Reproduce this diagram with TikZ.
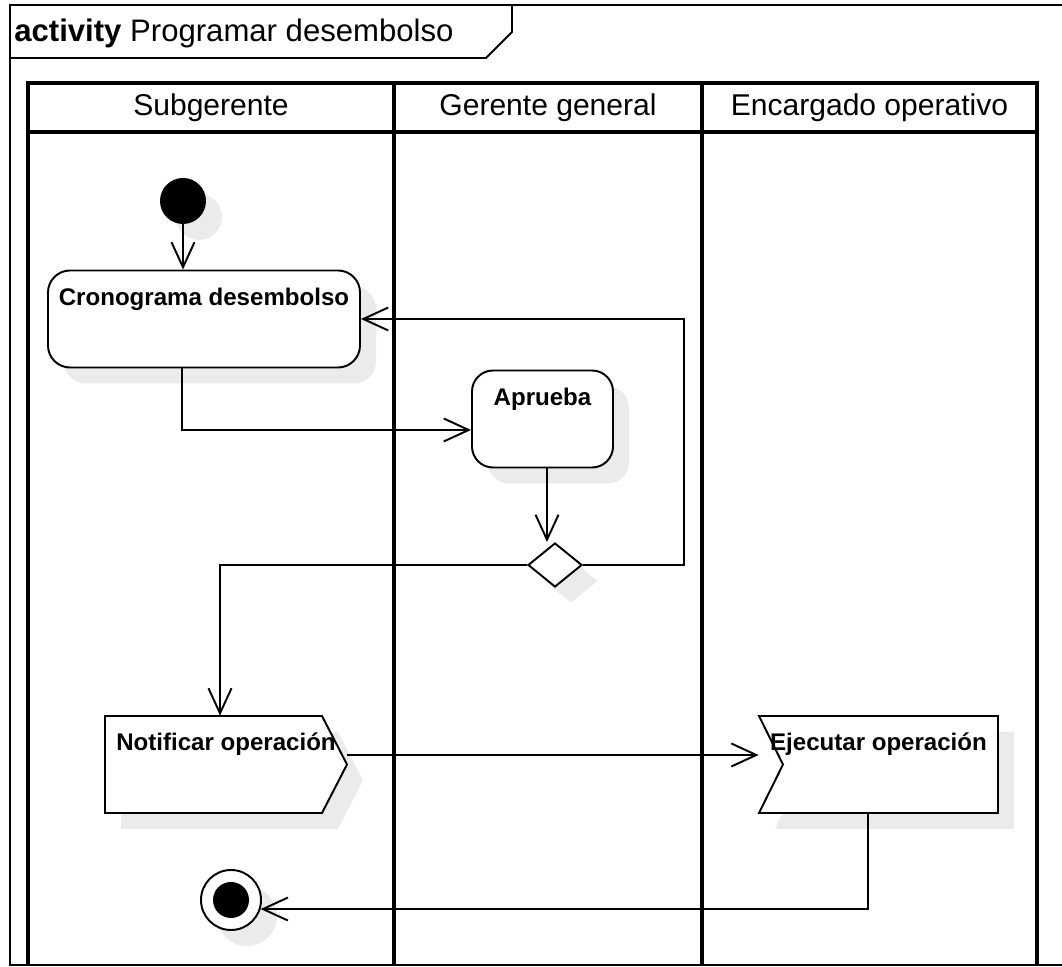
\documentclass[tikz,border=0pt]{standalone}
\usepackage{fontspec}
\setmainfont{Liberation Sans}
\usetikzlibrary{arrows.meta,shapes.geometric,shadows}

\tikzset{
  sombra/.style={drop shadow={shadow xshift=0.32cm,shadow yshift=-0.32cm,
      fill=black!8,opacity=1}},
  texto/.style={inner sep=0pt,text height=0.70cm,text depth=1.24cm,
      font=\fontsize{13.7}{16}\selectfont\bfseries},
  accion/.style={texto,draw,fill=white,line width=1.1pt,sombra},
  senal/.style={draw,fill=white,line width=1.1pt,sombra},
  flecha/.style={line width=1.1pt,
      -{Straight Barb[length=0.5cm,width=0.46cm,line width=1.1pt]}},
  carril/.style={line width=2.4pt},
  marco/.style={line width=1.1pt},
  cabecera/.style={font=\fontsize{17.1}{20}\selectfont},
}

\begin{document}
\begin{tikzpicture}[x=1cm,y=1cm,line join=miter]
    \useasboundingbox (0,0) rectangle (21.24,19.34);
    \def\xa{0.56}
    \def\xb{7.88}
    \def\xc{14.04}
    \def\xd{20.74}
    \def\yA{17.68}
    \def\yH{16.70}
    \def\yF{0.04}

    % Marco del diagrama y pestaña del nombre
    \draw[marco] (21.24,19.24) -- (0.20,19.24) -- (0.20,\yF) -- (21.24,\yF);
    \draw[marco] (0.20,18.18) -- (9.72,18.18) -- (10.24,18.70) -- (10.24,19.24);
    \node[anchor=base west,inner sep=0pt,font=\fontsize{17.7}{20}\selectfont]
        (titulo) at (0.28,18.51) {\textbf{activity} Programar desembolso};

    % Carriles
    \draw[carril] (\xa,\yF) -- (\xa,\yA) -- (\xd,\yA) -- (\xd,\yF);
    \draw[line width=2pt] (\xa,\yH) -- (\xd,\yH);
    \foreach \x in {\xb,\xc} {
        \draw[carril] (\x,\yA) -- (\x,\yF);
    }
    \node[cabecera] (sub) at (4.22,17.19) {Subgerente};
    \node[cabecera] (ger) at (10.96,17.19) {Gerente general};
    \node[cabecera] (enc) at (17.39,17.19) {Encargado operativo};

    % Nodos de la actividad
    \node[circle,fill=black,minimum size=0.92cm,inner sep=0pt,sombra]
        (ini) at (3.66,15.32) {};
    \node[accion,rounded corners=0.44cm,minimum width=6.24cm]
        (cron) at (4.08,12.96) {Cronograma desembolso};
    \node[accion,rounded corners=0.42cm,minimum width=2.82cm]
        (apr) at (10.85,10.96) {Aprueba};
    \node[diamond,draw,fill=white,line width=1.1pt,minimum width=1.08cm,
        minimum height=0.88cm,inner sep=0pt,sombra] (dec) at (11.10,8.04) {};

    % Envío y recepción de la señal
    \draw[senal] (2.10,5.02) -- (6.44,5.02) -- (6.94,4.05) -- (6.44,3.08)
        -- (2.10,3.08) -- cycle;
    \node[texto,minimum width=4.84cm] (notif) at (4.52,4.05) {Notificar operación};
    \draw[senal] (15.18,5.02) -- (19.96,5.02) -- (19.96,3.08) -- (15.18,3.08)
        -- (15.66,4.05) -- cycle;
    \node[texto,minimum width=4.78cm] (ejec) at (17.57,4.05) {Ejecutar operación};

    \node[circle,draw,fill=white,line width=1.1pt,minimum size=1.2cm,
        inner sep=0pt,sombra] (fin) at (4.62,1.34) {};
    \fill (fin.center) circle (0.36cm);

    % Flujos
    \draw[flecha] (ini) -- (ini |- cron.north);
    \draw[flecha] ([xshift=-0.44cm]cron.south) |- ([yshift=-0.22cm]apr.west);
    \draw[flecha] ([xshift=0.09cm]apr.south) -- ([xshift=0.09cm]apr.south |- dec.north);
    \draw[flecha] (dec.east) -- ++(2.02,0) |- (cron.east);
    \draw[flecha] (dec.west) -| ([xshift=-0.12cm]notif.north);
    \draw[flecha] ([yshift=0.19cm]notif.east) -- ([yshift=0.19cm]notif.east -| ejec.north west);
    \draw[flecha] ([xshift=-0.21cm]ejec.south) |- (fin.-17.5);
\end{tikzpicture}
\end{document}
